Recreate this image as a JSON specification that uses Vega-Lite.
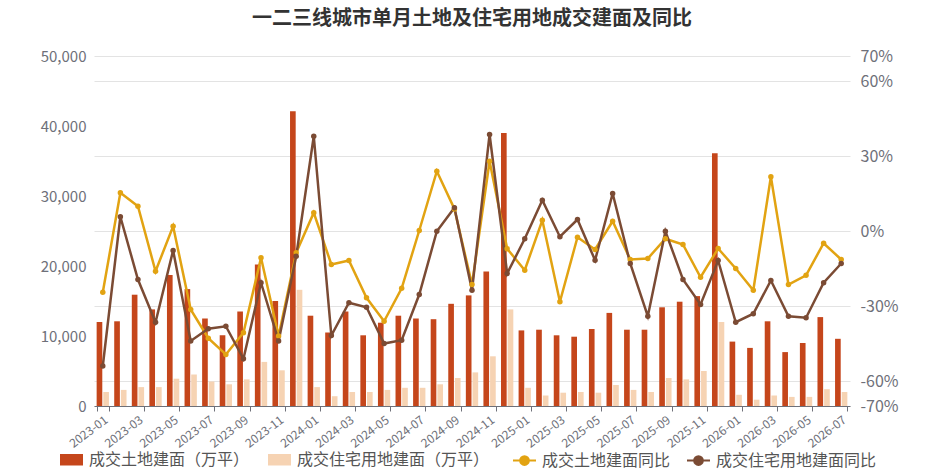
{
  "$schema": "https://vega.github.io/schema/vega-lite/v6.json",
  "autosize": "none",
  "width": 756,
  "height": 350,
  "padding": {"left": 94, "top": 56, "right": 95, "bottom": 66},
  "background": "white",
  "title": {
    "text": "一二三线城市单月土地及住宅用地成交建面及同比",
    "font": "Noto Sans CJK SC",
    "fontSize": 20,
    "fontWeight": "bold",
    "color": "#333333",
    "anchor": "middle",
    "frame": "group",
    "offset": 19
  },
  "config": {
    "font": "Noto Sans CJK SC",
    "view": {"stroke": null}
  },
  "data": {
    "values": [
      {"month": "2023-01", "land": 12000, "resi": 2000, "landYoY": -24.5, "resiYoY": -54},
      {"month": "2023-02", "land": 12100, "resi": 2300, "landYoY": 15.3, "resiYoY": 5.7},
      {"month": "2023-03", "land": 15900, "resi": 2700, "landYoY": 9.9, "resiYoY": -19.4},
      {"month": "2023-04", "land": 13800, "resi": 2700, "landYoY": -16.1, "resiYoY": -36.5},
      {"month": "2023-05", "land": 18700, "resi": 3900, "landYoY": 1.9, "resiYoY": -7.8},
      {"month": "2023-06", "land": 16700, "resi": 4500, "landYoY": -31.4, "resiYoY": -44},
      {"month": "2023-07", "land": 12500, "resi": 3500, "landYoY": -42.9, "resiYoY": -39.1},
      {"month": "2023-08", "land": 10100, "resi": 3100, "landYoY": -49.4, "resiYoY": -38.1},
      {"month": "2023-09", "land": 13500, "resi": 3800, "landYoY": -40.7, "resiYoY": -51.1},
      {"month": "2023-10", "land": 20200, "resi": 6300, "landYoY": -10.7, "resiYoY": -20.7},
      {"month": "2023-11", "land": 15000, "resi": 5100, "landYoY": -42, "resiYoY": -44},
      {"month": "2023-12", "land": 42100, "resi": 16600, "landYoY": -8.7, "resiYoY": -10.1},
      {"month": "2024-01", "land": 12900, "resi": 2700, "landYoY": 7.3, "resiYoY": 37.9},
      {"month": "2024-02", "land": 10500, "resi": 1400, "landYoY": -13.4, "resiYoY": -41.8},
      {"month": "2024-03", "land": 13500, "resi": 2000, "landYoY": -11.8, "resiYoY": -28.7},
      {"month": "2024-04", "land": 10100, "resi": 2000, "landYoY": -26.7, "resiYoY": -30.5},
      {"month": "2024-05", "land": 11900, "resi": 2300, "landYoY": -36.1, "resiYoY": -45},
      {"month": "2024-06", "land": 12900, "resi": 2600, "landYoY": -22.9, "resiYoY": -43.7},
      {"month": "2024-07", "land": 12500, "resi": 2600, "landYoY": 0.2, "resiYoY": -25.4},
      {"month": "2024-08", "land": 12400, "resi": 3100, "landYoY": 23.9, "resiYoY": -0.1},
      {"month": "2024-09", "land": 14600, "resi": 4000, "landYoY": 8.8, "resiYoY": 9.3},
      {"month": "2024-10", "land": 15800, "resi": 4800, "landYoY": -21.4, "resiYoY": -23.7},
      {"month": "2024-11", "land": 19200, "resi": 7100, "landYoY": 27.9, "resiYoY": 38.6},
      {"month": "2024-12", "land": 39000, "resi": 13800, "landYoY": -7.1, "resiYoY": -17},
      {"month": "2025-01", "land": 10800, "resi": 2600, "landYoY": -15.7, "resiYoY": -3.1},
      {"month": "2025-02", "land": 10900, "resi": 1500, "landYoY": 4.3, "resiYoY": 12.3},
      {"month": "2025-03", "land": 10100, "resi": 1900, "landYoY": -28.3, "resiYoY": -2.3},
      {"month": "2025-04", "land": 9900, "resi": 2000, "landYoY": -2.5, "resiYoY": 4.6},
      {"month": "2025-05", "land": 11000, "resi": 1900, "landYoY": -7.4, "resiYoY": -11.7},
      {"month": "2025-06", "land": 13300, "resi": 3000, "landYoY": 3.9, "resiYoY": 15},
      {"month": "2025-07", "land": 10900, "resi": 2300, "landYoY": -11.4, "resiYoY": -13},
      {"month": "2025-08", "land": 10900, "resi": 2000, "landYoY": -11, "resiYoY": -34.1},
      {"month": "2025-09", "land": 14100, "resi": 4000, "landYoY": -3.1, "resiYoY": -0.1},
      {"month": "2025-10", "land": 14900, "resi": 3800, "landYoY": -5.4, "resiYoY": -19.4},
      {"month": "2025-11", "land": 15700, "resi": 5000, "landYoY": -18.5, "resiYoY": -29.4},
      {"month": "2025-12", "land": 36100, "resi": 12000, "landYoY": -7, "resiYoY": -11.8},
      {"month": "2026-01", "land": 9200, "resi": 1600, "landYoY": -15, "resiYoY": -36.5},
      {"month": "2026-02", "land": 8300, "resi": 900, "landYoY": -23.7, "resiYoY": -33.1},
      {"month": "2026-03", "land": 12100, "resi": 1500, "landYoY": 21.7, "resiYoY": -19.8},
      {"month": "2026-04", "land": 7700, "resi": 1300, "landYoY": -21.4, "resiYoY": -34.1},
      {"month": "2026-05", "land": 9000, "resi": 1300, "landYoY": -17.7, "resiYoY": -34.7},
      {"month": "2026-06", "land": 12700, "resi": 2400, "landYoY": -4.9, "resiYoY": -20.7},
      {"month": "2026-07", "land": 9600, "resi": 2000, "landYoY": -11.4, "resiYoY": -13}
    ]
  },
  "encoding": {
    "x": {
      "field": "month",
      "type": "ordinal",
      "title": null,
      "scale": {"paddingInner": 0.3, "paddingOuter": 0.15},
      "axis": {
        "values": ["2023-01", "2023-03", "2023-05", "2023-07", "2023-09", "2023-11", "2024-01", "2024-03", "2024-05", "2024-07", "2024-09", "2024-11", "2025-01", "2025-03", "2025-05", "2025-07", "2025-09", "2025-11", "2026-01", "2026-03", "2026-05", "2026-07"],
        "labelAngle": -37,
        "labelAlign": "right",
        "labelBaseline": "top",
        "labelFontSize": 12,
        "labelColor": "#6e7079",
        "labelPadding": 3,
        "domainColor": "#6e7079",
        "tickColor": "#6e7079",
        "tickSize": 5,
        "tickBand": "extent",
        "grid": false
      }
    }
  },
  "layer": [
    {
      "transform": [{"fold": ["land", "resi"], "as": ["series", "value"]}],
      "mark": {"type": "bar"},
      "encoding": {
        "xOffset": {"field": "series", "type": "nominal", "scale": {"domain": ["land", "resi"], "paddingInner": 0.15}},
        "y": {
          "field": "value",
          "type": "quantitative",
          "scale": {"domain": [0, 50000]},
          "axis": {
            "orient": "left",
            "title": null,
            "values": [0, 10000, 20000, 30000, 40000, 50000],
            "labelExpr": "format(datum.value, ',')",
            "grid": false,
            "domain": false,
            "ticks": false,
            "labelFontSize": 15,
            "labelColor": "#6e7079",
            "labelPadding": 8,
            "labelFlush": false
          }
        },
        "color": {
          "field": "series",
          "type": "nominal",
          "scale": {"domain": ["land", "resi"], "range": ["#c5461b", "#f6d3b3"]},
          "legend": {
            "orient": "none",
            "legendX": -34,
            "legendY": 392,
            "direction": "horizontal",
            "title": null,
            "symbolType": "M-1,-0.5H1V0.5H-1Z",
            "symbolSize": 529,
            "symbolStrokeWidth": 0,
            "labelFontSize": 16,
            "labelColor": "#555555",
            "labelOffset": 6,
            "labelLimit": 300,
            "columnPadding": 18,
            "labelExpr": "{'land': '成交土地建面（万平）', 'resi': '成交住宅用地建面（万平）'}[datum.label]"
          }
        }
      }
    },
    {
      "transform": [{"fold": ["landYoY", "resiYoY"], "as": ["series2", "pct"]}],
      "encoding": {
        "y": {
          "field": "pct",
          "type": "quantitative",
          "scale": {"domain": [-70, 70]},
          "axis": {
            "orient": "right",
            "title": null,
            "values": [-70, -60, -30, 0, 30, 60, 70],
            "labelExpr": "datum.value + '%'",
            "grid": true,
            "gridColor": "#e3e3e3",
            "domain": false,
            "ticks": false,
            "labelFontSize": 16,
            "labelColor": "#6e7079",
            "labelPadding": 10,
            "labelOverlap": false,
            "labelFlush": false
          }
        }
      },
      "layer": [
        {
          "mark": {"type": "line", "strokeWidth": 2.5},
          "encoding": {
            "stroke": {
              "field": "series2",
              "type": "nominal",
              "scale": {"domain": ["landYoY", "resiYoY"], "range": ["#e2a312", "#7b4b34"]},
              "legend": {
                "orient": "none",
                "legendX": 418,
                "legendY": 392,
                "direction": "horizontal",
                "title": null,
                "symbolType": "M-1,0H1M-0.38,0A0.38,0.38 0 1,0 0.38,0A0.38,0.38 0 1,0 -0.38,0",
                "symbolSize": 529,
                "symbolStrokeWidth": 2,
                "labelFontSize": 16,
                "labelColor": "#555555",
                "labelOffset": 5,
                "labelLimit": 300,
                "columnPadding": 12,
                "labelExpr": "{'landYoY': '成交土地建面同比', 'resiYoY': '成交住宅用地建面同比'}[datum.label]"
              }
            }
          }
        },
        {
          "mark": {"type": "point", "filled": true, "size": 30, "opacity": 1},
          "encoding": {
            "fill": {
              "field": "series2",
              "type": "nominal",
              "scale": {"domain": ["landYoY", "resiYoY"], "range": ["#e2a312", "#7b4b34"]},
              "legend": {
                "orient": "none",
                "legendX": 418,
                "legendY": 392,
                "direction": "horizontal",
                "title": null,
                "symbolType": "M-1,0H1M-0.38,0A0.38,0.38 0 1,0 0.38,0A0.38,0.38 0 1,0 -0.38,0",
                "symbolSize": 529,
                "symbolStrokeWidth": 2,
                "labelFontSize": 16,
                "labelColor": "#555555",
                "labelOffset": 5,
                "labelLimit": 300,
                "columnPadding": 12,
                "labelExpr": "{'landYoY': '成交土地建面同比', 'resiYoY': '成交住宅用地建面同比'}[datum.label]"
              }
            }
          }
        }
      ]
    }
  ],
  "resolve": {"scale": {"y": "independent"}}
}
